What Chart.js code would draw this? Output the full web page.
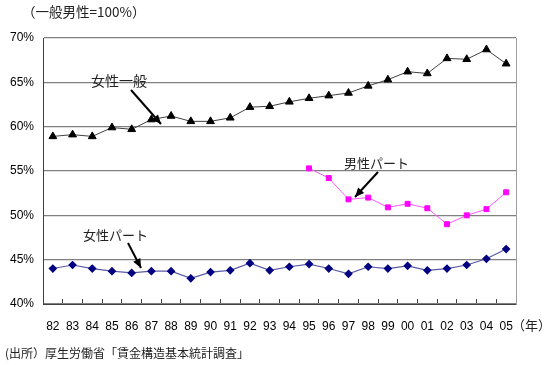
<!DOCTYPE html>
<html>
<head>
<meta charset="utf-8">
<script src="https://cdn.jsdelivr.net/npm/chart.js@4/dist/chart.umd.min.js"></script>
<style>
  body { margin: 0; background: #fff; }
</style>
</head>
<body>
<canvas id="wageChart" width="550" height="365"></canvas>
<script>
const years = ['82', '83', '84', '85', '86', '87', '88', '89', '90', '91', '92', '93',
               '94', '95', '96', '97', '98', '99', '00', '01', '02', '03', '04', '05'];
const femaleGeneral = [58.9, 59.1, 58.9, 59.9, 59.7, 60.8, 61.2, 60.6, 60.6, 61.0, 62.2, 62.3,
                       62.8, 63.2, 63.5, 63.8, 64.6, 65.3, 66.2, 66.0, 67.7, 67.6, 68.7, 67.1];
const maleParttime = [null, null, null, null, null, null, null, null, null, null, null, null,
                      null, 55.3, 54.2, 51.8, 52.0, 50.9, 51.3, 50.8, 49.0, 50.0, 50.7, 52.6];
const femaleParttime = [44.0, 44.4, 44.0, 43.7, 43.5, 43.7, 43.7, 42.9, 43.6, 43.8, 44.6, 43.8,
                        44.2, 44.5, 44.0, 43.4, 44.2, 44.0, 44.3, 43.8, 44.0, 44.4, 45.1, 46.2];
const yTicks = { min: 40, max: 70, step: 5 };

const jpFont = '"Noto Sans CJK JP", sans-serif';
const numFont = '"Liberation Sans", Arial, sans-serif';

function arrow(ctx, x1, y1, x2, y2) {
    ctx.save();
    ctx.strokeStyle = '#000';
    ctx.fillStyle = '#000';
    ctx.lineWidth = 2;
    ctx.beginPath();
    ctx.moveTo(x1, y1);
    ctx.lineTo(x2, y2);
    ctx.stroke();
    const a = Math.atan2(y2 - y1, x2 - x1);
    ctx.beginPath();
    ctx.moveTo(x2, y2);
    ctx.lineTo(x2 - 10 * Math.cos(a - 0.42), y2 - 10 * Math.sin(a - 0.42));
    ctx.lineTo(x2 - 10 * Math.cos(a + 0.42), y2 - 10 * Math.sin(a + 0.42));
    ctx.closePath();
    ctx.fill();
    ctx.restore();
}

const notes = {
    id: 'notes',
    afterDraw(chart) {
        const ctx = chart.ctx;
        ctx.save();
        ctx.fillStyle = '#222';
        ctx.textBaseline = 'middle';
        ctx.font = '13.5px ' + jpFont;
        ctx.fillText('（一般男性=100%）', 22, 12);
        ctx.font = '14px ' + jpFont;
        ctx.fillText('女性一般', 91, 81);
        ctx.font = '13px ' + jpFont;
        ctx.fillText('男性パート', 344, 163);
        ctx.fillText('女性パート', 83, 235);
        ctx.fillText('（年）', 512, 325);
        ctx.font = '12px ' + jpFont;
        ctx.fillText('(出所）厚生労働省「賃金構造基本統計調査」', 5, 353);
        ctx.restore();
        arrow(ctx, 131, 90, 161, 124);
        arrow(ctx, 378, 172, 355, 197);
        arrow(ctx, 128, 243, 141, 268);
    }
};

new Chart(document.getElementById('wageChart'), {
    type: 'line',
    data: {
        labels: years,
        datasets: [{
            label: '女性一般',
            data: femaleGeneral,
            borderColor: '#404040',
            borderWidth: 1,
            pointStyle: 'triangle',
            pointRadius: 4.5,
            pointBackgroundColor: '#000',
            pointBorderColor: '#000',
            pointBorderWidth: 1
        }, {
            label: '男性パート',
            data: maleParttime,
            borderColor: '#ff55ff',
            borderWidth: 1,
            pointStyle: 'rect',
            pointRadius: 3.5,
            pointBackgroundColor: '#ff00ff',
            pointBorderColor: '#ff00ff',
            spanGaps: false
        }, {
            label: '女性パート',
            data: femaleParttime,
            borderColor: '#5a5aa8',
            borderWidth: 1.2,
            pointStyle: 'rectRot',
            pointRadius: 3.5,
            pointBackgroundColor: '#000080',
            pointBorderColor: '#000080'
        }]
    },
    options: {
        responsive: false,
        animation: false,
        layout: { padding: { top: 38, right: 34, left: 0, bottom: 0 } },
        plugins: { legend: { display: false }, tooltip: { enabled: false } },
        scales: {
            x: {
                offset: true,
                afterFit(s) { s.height = 61; },
                grid: { drawOnChartArea: false, offset: true, tickLength: -5, color: '#404040' },
                border: { color: '#404040' },
                ticks: { color: '#000', padding: 20, maxRotation: 0, autoSkip: false,
                         font: { family: numFont, size: 12 } }
            },
            y: {
                min: yTicks.min,
                max: yTicks.max,
                afterFit(s) { s.width = 43; },
                grid: { color: '#808080', lineWidth: 1.3, drawTicks: false },
                border: { color: '#404040' },
                ticks: {
                    stepSize: yTicks.step, padding: 9, color: '#000',
                    font: { family: numFont, size: 12 },
                    callback: v => v + '%'
                }
            },
            y2: {
                position: 'right',
                min: yTicks.min,
                max: yTicks.max,
                afterFit(s) { s.width = 0; },
                grid: { drawOnChartArea: false, drawTicks: false },
                border: { color: '#a0a0a0' },
                ticks: { display: false }
            }
        }
    },
    plugins: [notes]
});
</script>
</body>
</html>
